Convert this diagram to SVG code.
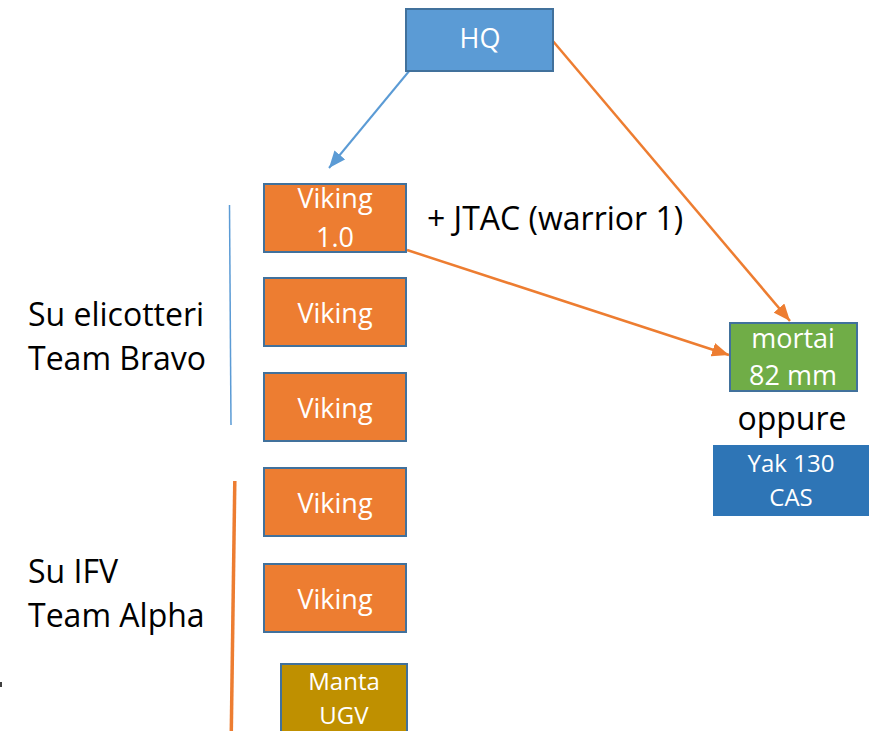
<svg xmlns="http://www.w3.org/2000/svg" width="869" height="731" viewBox="0 0 869 731">
<style>
.box{stroke:#41719C;stroke-width:2}
.org{fill:#ED7D31}
.lbl{font-family:"Open Sans","Liberation Sans",sans-serif;fill:#FFFFFF;text-anchor:middle;font-size:27px}
.sm{font-size:24px}
.txt{font-family:"Open Sans","Liberation Sans",sans-serif;fill:#000000;font-size:32px}
.ln-o{stroke:#ED7D31;stroke-width:2.5;fill:none}
.ln-b{stroke:#5B9BD5;stroke-width:2;fill:none}
</style>
<defs>
<marker id="ah-o" markerUnits="userSpaceOnUse" markerWidth="18" markerHeight="14" refX="17" refY="7" orient="auto">
<path d="M0,0 L17,7 L0,14 z" fill="#ED7D31"/>
</marker>
<marker id="ah-b" markerUnits="userSpaceOnUse" markerWidth="18" markerHeight="14" refX="17" refY="7" orient="auto">
<path d="M0,0 L17,7 L0,14 z" fill="#5B9BD5"/>
</marker>
</defs>
<rect width="869" height="731" fill="#FFFFFF"/>
<g id="connectors">
<line class="ln-b" x1="410" y1="70" x2="329" y2="168" marker-end="url(#ah-b)"/>
<line class="ln-o" x1="552" y1="40" x2="790" y2="321" marker-end="url(#ah-o)"/>
<line class="ln-o" x1="407" y1="250" x2="729" y2="355" marker-end="url(#ah-o)"/>
<line x1="229.5" y1="205" x2="231" y2="425" stroke="#5B9BD5" stroke-width="1.5"/>
<line x1="234.8" y1="481" x2="231.3" y2="731" stroke="#ED7D31" stroke-width="3.5"/>
</g>
<g id="hq">
<rect class="box" x="406" y="9" width="147" height="62" fill="#5B9BD5"/>
<text class="lbl" x="480" y="48" font-size="20">HQ</text>
</g>
<g id="viking1">
<rect class="box org" x="264" y="184" width="142" height="68"/>
<text class="lbl" x="335" y="208">Viking</text>
<text class="lbl" x="335" y="247">1.0</text>
</g>
<g id="viking2">
<rect class="box org" x="264" y="278" width="142" height="68"/>
<text class="lbl" x="335" y="323">Viking</text>
</g>
<g id="viking3">
<rect class="box org" x="264" y="373" width="142" height="68"/>
<text class="lbl" x="335" y="418">Viking</text>
</g>
<g id="viking4">
<rect class="box org" x="264" y="468" width="142" height="68"/>
<text class="lbl" x="335" y="513">Viking</text>
</g>
<g id="viking5">
<rect class="box org" x="264" y="564" width="142" height="68"/>
<text class="lbl" x="335" y="609">Viking</text>
</g>
<g id="manta">
<rect class="box" x="281" y="664" width="126" height="80" fill="#BF9000"/>
<text class="lbl sm" x="344" y="690">Manta</text>
<text class="lbl sm" x="344" y="724">UGV</text>
</g>
<g id="mortai">
<rect class="box" x="730" y="323" width="127" height="68" fill="#70AD47"/>
<text class="lbl" x="793" y="348">mortai</text>
<text class="lbl" x="793" y="385">82 mm</text>
</g>
<g id="yak">
<rect x="713" y="445" width="160" height="71" fill="#2E75B6"/>
<text class="lbl sm" x="791" y="472">Yak 130</text>
<text class="lbl sm" x="791" y="506">CAS</text>
</g>
<g id="labels">
<text class="txt" x="427" y="230">+ JTAC (warrior 1)</text>
<text class="txt" x="792" y="430" text-anchor="middle">oppure</text>
<text class="txt" x="28" y="326">Su elicotteri</text>
<text class="txt" x="28" y="370">Team Bravo</text>
<text class="txt" x="28" y="583">Su IFV</text>
<text class="txt" x="28" y="627">Team Alpha</text>
</g>
<rect x="0" y="682" width="2" height="5" fill="#404040"/>
</svg>
